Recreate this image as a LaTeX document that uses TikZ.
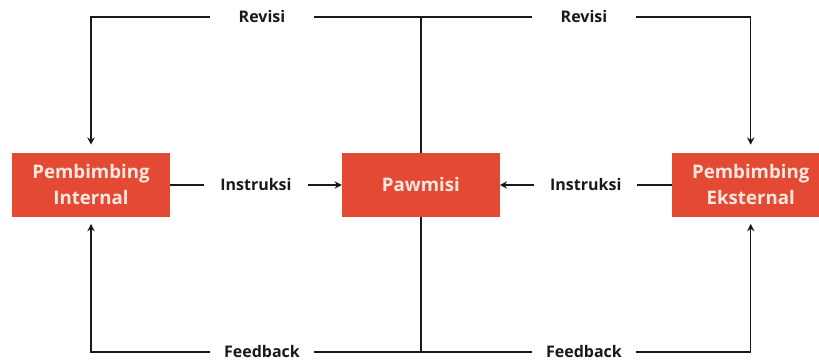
\documentclass[tikz,border=0pt]{standalone}
\usepackage{fontspec}
\setmainfont{Open Sans}
\usepackage{tikz}
\usetikzlibrary{arrows.meta, positioning, calc}
\definecolor{boxred}{RGB}{228,74,51}
\definecolor{boxtext}{RGB}{252,232,224}
\definecolor{linegray}{RGB}{25,25,25}

\begin{document}
\begin{tikzpicture}[
    x=0.75pt, y=-0.75pt,
    box/.style={fill=boxred, minimum width=118pt, minimum height=48pt, align=center, inner sep=0pt,
        text=boxtext, font=\fontsize{14}{19.5}\selectfont\bfseries},
    lbl/.style={minimum width=77pt, inner sep=0pt, font=\fontsize{12}{14}\selectfont\bfseries, text=linegray},
    conn/.style={draw=linegray, line width=1.1pt},
    arrow/.style={conn, -{Stealth[length=5.5pt, width=5.5pt]}}
]
    \useasboundingbox (0,0) rectangle (819,363);

    % the three parties
    \node[box] (intern) at (91,185) {Pembimbing\\Internal};
    \node[box, right=129pt of intern] (pawmisi) {Pawmisi};
    \node[box, right=129pt of pawmisi] (ekstern) {Pembimbing\\Eksternal};

    % labels on the connectors
    \node[lbl] (instrkiri) at ($(intern.east)!0.5!(pawmisi.west)$) {Instruksi};
    \node[lbl] (instrkanan) at ($(pawmisi.east)!0.5!(ekstern.west)$) {Instruksi};
    \node[lbl] (revkiri) at (262,17) {Revisi};
    \node[lbl] (revkanan) at (584,17) {Revisi};
    \node[lbl] (fbkiri) at (262,352) {Feedback};
    \node[lbl] (fbkanan) at (584,352) {Feedback};

    % instruksi
    \draw[conn] (intern.east) -- (instrkiri.west);
    \draw[arrow] (instrkiri.east) -- (pawmisi.west);
    \draw[conn] (ekstern.west) -- (instrkanan.east);
    \draw[arrow] (instrkanan.west) -- (pawmisi.east);

    % revisi
    \draw[conn] (pawmisi.north) -- (pawmisi.north |- revkiri.east);
    \draw[conn] (revkiri.east) -- (revkanan.west);
    \draw[arrow, shorten >=6pt] (revkiri.west) -| (intern.north);
    \draw[arrow, shorten >=6pt] (revkanan.east) -| (ekstern.north);

    % feedback
    \draw[conn] (pawmisi.south) -- (pawmisi.south |- fbkiri.east);
    \draw[conn] (fbkiri.east) -- (fbkanan.west);
    \draw[arrow, shorten >=5pt] (fbkiri.west) -| (intern.south);
    \draw[arrow, shorten >=5pt] (fbkanan.east) -| (ekstern.south);
\end{tikzpicture}
\end{document}
